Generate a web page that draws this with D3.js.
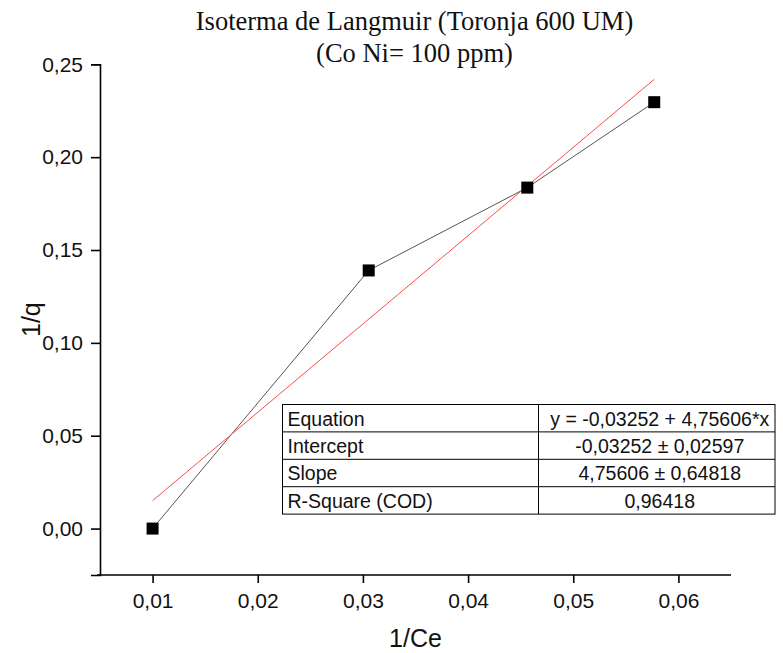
<!DOCTYPE html>
<html>
<head>
<meta charset="utf-8">
<script src="https://cdnjs.cloudflare.com/ajax/libs/d3/7.8.5/d3.min.js"></script>
<style>
  body { margin: 0; background: #fff; }
  svg { display: block; }
  .tick text { font-family: "Liberation Sans", Arial, sans-serif; }
</style>
</head>
<body>
<div id="chart"></div>
<script>
// data
var invCe = [0.01, 0.03055, 0.04563, 0.0577];
var invQ = [0, 0.139, 0.1836, 0.2296];

// linear fit reported in the table
var fitIntercept = -0.03252;
var fitSlope = 4.75606;

var titleLines = ["Isoterma de Langmuir (Toronja 600 UM)", "(Co Ni= 100 ppm)"];
var tableRows = [
    ["Equation", "y = -0,03252 + 4,75606*x"],
    ["Intercept", "-0,03252 \u00b1 0,02597"],
    ["Slope", "4,75606 \u00b1 0,64818"],
    ["R-Square (COD)", "0,96418"]
];

var xTicks = [0.01, 0.02, 0.03, 0.04, 0.05, 0.06];
var xMinor = [0.005, 0.015, 0.025, 0.035, 0.045, 0.055, 0.065];
var yTicks = [0, 0.05, 0.10, 0.15, 0.20, 0.25];
var yMinor = [-0.025, 0.025, 0.075, 0.125, 0.175, 0.225];

var width = 783,
    height = 653;
var margin = {top: 64.3, right: 52, bottom: 78, left: 100};

var locale = d3.formatLocale({decimal: ",", thousands: ".", grouping: [3], currency: ["", ""]});
var fmt = locale.format(".2f");

var svg = d3.select("#chart").append("svg")
    .attr("width", width)
    .attr("height", height);

var x = d3.scaleLinear()
    .domain([0.005, 0.065])
    .range([margin.left, width - margin.right]);

var y = d3.scaleLinear()
    .domain([-0.025, 0.25])
    .range([height - margin.bottom, margin.top]);

// title
svg.append("g").selectAll("text")
    .data(titleLines)
    .enter().append("text")
    .attr("x", (margin.left + width - margin.right) / 2 - 1)
    .attr("y", function(d, i) { return 30 + i * 32; })
    .attr("text-anchor", "middle")
    .style("font-family", "'Liberation Serif', 'Times New Roman', serif")
    .style("font-size", "26.5px")
    .attr("fill", "#111")
    .text(function(d) { return d; });

// axes
var xAxis = svg.append("g")
    .attr("transform", "translate(0," + y.range()[0] + ")");
xAxis.call(d3.axisBottom(x).tickValues(xMinor).tickSize(4).tickFormat(""));
xAxis.call(d3.axisBottom(x).tickValues(xTicks).tickSize(8).tickPadding(10).tickFormat(fmt));
xAxis.selectAll(".domain").attr("d", "M" + (x.range()[0] - 3) + ",0H" + x.range()[1]);

var yAxis = svg.append("g")
    .attr("transform", "translate(" + x.range()[0] + ",0)");
yAxis.call(d3.axisLeft(y).tickValues(yMinor).tickSize(4).tickFormat(""));
yAxis.call(d3.axisLeft(y).tickValues(yTicks).tickSize(9).tickPadding(8).tickFormat(fmt));

svg.selectAll(".domain").attr("stroke-width", 1.6);
svg.selectAll(".tick line").attr("stroke-width", 1.6);
svg.selectAll(".tick text")
    .style("font-size", "21px")
    .attr("fill", "#111");

// axis titles
svg.append("text")
    .attr("x", (x.range()[0] + x.range()[1]) / 2)
    .attr("y", 647)
    .attr("text-anchor", "middle")
    .style("font-family", "'Liberation Sans', Arial, sans-serif")
    .style("font-size", "25px")
    .attr("fill", "#111")
    .text("1/Ce");

svg.append("text")
    .attr("transform", "translate(40," + (y.range()[0] + y.range()[1]) / 2 + ") rotate(-90)")
    .attr("text-anchor", "middle")
    .style("font-family", "'Liberation Sans', Arial, sans-serif")
    .style("font-size", "25px")
    .attr("fill", "#111")
    .text("1/q");

// data line
var points = invCe.map(function(v, i) { return [v, invQ[i]]; });
var line = d3.line()
    .x(function(d) { return x(d[0]); })
    .y(function(d) { return y(d[1]); });

svg.append("path")
    .datum(points)
    .attr("fill", "none")
    .attr("stroke", "#555")
    .attr("stroke-width", 1)
    .attr("d", line);

// fitted line across the data range
var xExt = d3.extent(invCe);
var fitPts = xExt.map(function(v) { return [v, fitIntercept + fitSlope * v]; });
svg.append("path")
    .datum(fitPts)
    .attr("fill", "none")
    .attr("stroke", "#ff4a4a")
    .attr("stroke-width", 1)
    .attr("d", line);

// markers
var sz = 12;
svg.append("g").selectAll("rect")
    .data(points)
    .enter().append("rect")
    .attr("x", function(d) { return x(d[0]) - sz / 2; })
    .attr("y", function(d) { return y(d[1]) - sz / 2; })
    .attr("width", sz)
    .attr("height", sz)
    .attr("fill", "#000");

// fit table
var tbl = {left: 282.5, top: 404.5, split: 538.5, right: 775, rowH: 27.4};
var tg = svg.append("g");
tg.append("rect")
    .attr("x", tbl.left)
    .attr("y", tbl.top)
    .attr("width", tbl.right - tbl.left)
    .attr("height", tbl.rowH * tableRows.length)
    .attr("fill", "#fff")
    .attr("stroke", "#000")
    .attr("stroke-width", 1);
tg.selectAll("line.row")
    .data(d3.range(1, tableRows.length))
    .enter().append("line")
    .attr("x1", tbl.left).attr("x2", tbl.right)
    .attr("y1", function(d) { return tbl.top + d * tbl.rowH; })
    .attr("y2", function(d) { return tbl.top + d * tbl.rowH; })
    .attr("stroke", "#000");
tg.append("line")
    .attr("x1", tbl.split).attr("x2", tbl.split)
    .attr("y1", tbl.top).attr("y2", tbl.top + tbl.rowH * tableRows.length)
    .attr("stroke", "#000");

var rows = tg.selectAll("g.r")
    .data(tableRows)
    .enter().append("g")
    .attr("transform", function(d, i) { return "translate(0," + (tbl.top + i * tbl.rowH + 21) + ")"; })
    .style("font-family", "'Liberation Sans', Arial, sans-serif")
    .style("font-size", "19.5px")
    .attr("fill", "#111");
rows.append("text")
    .attr("x", tbl.left + 5)
    .text(function(d) { return d[0]; });
rows.append("text")
    .attr("x", (tbl.split + tbl.right) / 2 + 3)
    .attr("text-anchor", "middle")
    .text(function(d) { return d[1]; });
</script>
</body>
</html>
